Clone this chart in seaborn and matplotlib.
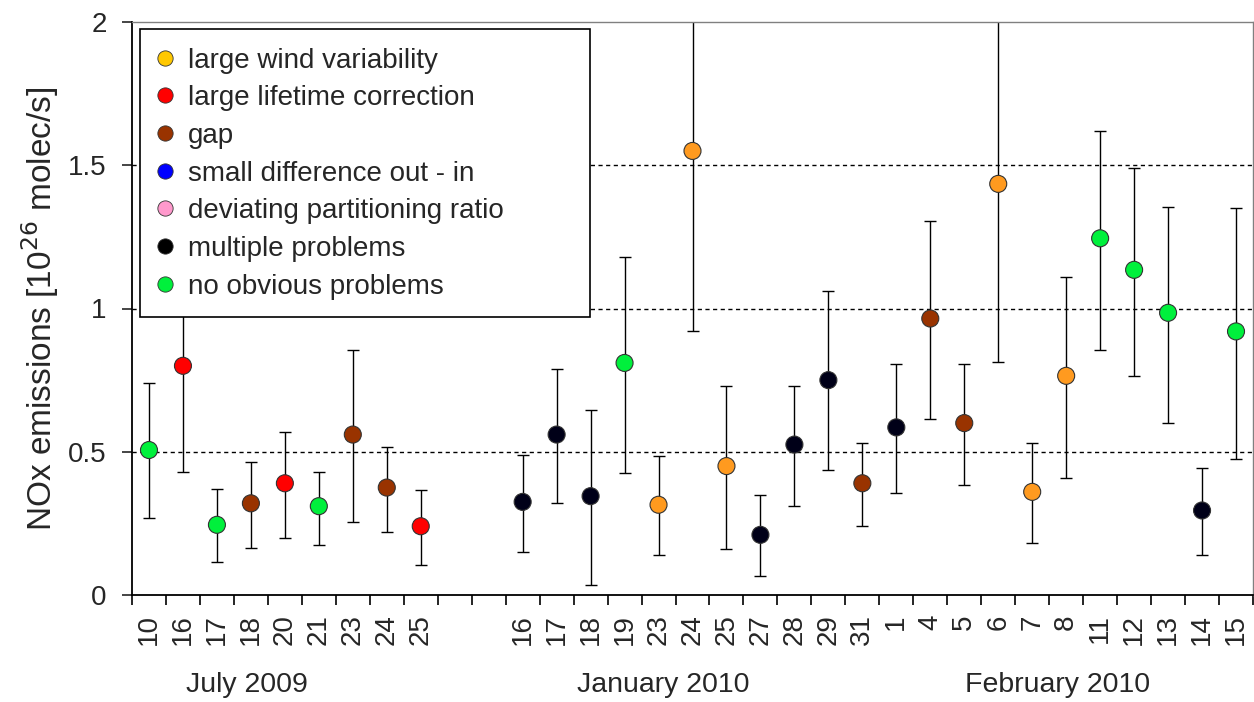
import numpy as np
import pandas as pd
import matplotlib
matplotlib.use("Agg")
import matplotlib.pyplot as plt
from matplotlib.lines import Line2D
from matplotlib.patches import Rectangle
from matplotlib.ticker import FixedLocator, FuncFormatter
import seaborn as sns

# ---------------- data ----------------
july_days = ["10", "16", "17", "18", "20", "21", "23", "24", "25"]
july_vals = [0.506, 0.80, 0.245, 0.32, 0.39, 0.31, 0.56, 0.375, 0.24]
july_hi = [0.74, 1.17, 0.37, 0.465, 0.57, 0.43, 0.855, 0.515, 0.365]
july_lo = [0.27, 0.43, 0.115, 0.165, 0.20, 0.175, 0.255, 0.22, 0.105]
july_cat = ["no obvious problems", "large lifetime correction", "no obvious problems", "gap",
            "large lifetime correction", "no obvious problems", "gap", "gap",
            "large lifetime correction"]

jan_days = ["16", "17", "18", "19", "23", "24", "25", "27", "28", "29", "31"]
jan_vals = [0.325, 0.56, 0.345, 0.81, 0.315, 1.55, 0.45, 0.21, 0.525, 0.75, 0.39]
jan_hi = [0.49, 0.79, 0.645, 1.18, 0.485, 2.18, 0.73, 0.35, 0.73, 1.06, 0.53]
jan_lo = [0.15, 0.32, 0.035, 0.425, 0.14, 0.92, 0.16, 0.065, 0.31, 0.435, 0.24]
jan_cat = ["multiple problems", "multiple problems", "multiple problems", "no obvious problems",
           "large wind variability", "large wind variability", "large wind variability",
           "multiple problems", "multiple problems", "multiple problems", "gap"]

feb_days = ["1", "4", "5", "6", "7", "8", "11", "12", "13", "14", "15"]
feb_vals = [0.585, 0.965, 0.60, 1.435, 0.36, 0.765, 1.245, 1.135, 0.985, 0.295, 0.92]
feb_hi = [0.805, 1.305, 0.805, 2.06, 0.53, 1.11, 1.62, 1.49, 1.355, 0.445, 1.35]
feb_lo = [0.355, 0.615, 0.385, 0.815, 0.18, 0.41, 0.855, 0.765, 0.60, 0.14, 0.475]
feb_cat = ["multiple problems", "gap", "gap", "large wind variability", "large wind variability",
           "large wind variability", "no obvious problems", "no obvious problems",
           "no obvious problems", "multiple problems", "no obvious problems"]

month_labels = ["July 2009", "January 2010", "February 2010"]

categories = ["large wind variability", "large lifetime correction", "gap",
              "small difference out - in", "deviating partitioning ratio",
              "multiple problems", "no obvious problems"]
point_colors = ["#FF9A1F", "#FF0000", "#993300", "#0000FF", "#FF99CC", "#000018", "#00F03C"]
legend_colors = ["#FFC800", "#FF0000", "#993300", "#0000FF", "#FF99CC", "#000000", "#00F03C"]

# ---------------- build table ----------------
gap_slots = 2
rows = []
start = 0
for days, vals, hi, lo, cat in [(july_days, july_vals, july_hi, july_lo, july_cat),
                                (jan_days, jan_vals, jan_hi, jan_lo, jan_cat),
                                (feb_days, feb_vals, feb_hi, feb_lo, feb_cat)]:
    for i, d in enumerate(days):
        rows.append(dict(pos=start + i, day=d, val=vals[i], hi=hi[i], lo=lo[i], cat=cat[i]))
    start += len(days)
    if days is july_days:
        start += gap_slots
df = pd.DataFrame(rows)
n_slots = start

sns.set_style("white")
plt.rcParams['font.family'] = ['Liberation Sans', 'DejaVu Sans']

W, H = 1254, 702
fig = plt.figure(figsize=(W / 100, H / 100), dpi=100)
ax = fig.add_axes([132 / W, 1 - 595 / H, 1121 / W, (595 - 22) / H])

# reference lines
for yv in [0.5, 1.0, 1.5]:
    ax.axhline(yv, color="black", lw=1.0, ls=(0, (3, 2.5)), zorder=1)

# error bars
ax.errorbar(df["pos"], df["val"],
            yerr=[df["val"] - df["lo"], df["hi"] - df["val"]],
            fmt="none", ecolor="black", elinewidth=1.0, capsize=4, capthick=1.0, zorder=2)

# points
sns.scatterplot(data=df, x="pos", y="val", hue="cat", hue_order=categories,
                palette=dict(zip(categories, point_colors)), s=150,
                edgecolor="#333333", linewidth=0.8, legend=False, ax=ax, zorder=3)

ax.set_xlim(-0.5, n_slots - 0.5)
ax.set_ylim(0, 2)

# x ticks: labels at points, marks at boundaries
ax.xaxis.set_major_locator(FixedLocator(df["pos"].tolist()))
ax.set_xticklabels(df["day"].tolist(), rotation=90, fontsize=20)
ax.xaxis.set_minor_locator(FixedLocator(np.arange(-0.5, n_slots, 1.0)))
ax.tick_params(axis="x", which="major", length=0, pad=14)
ax.tick_params(axis="x", which="minor", length=7.2, width=1.2, color="black", direction="out", bottom=True)

ax.set_yticks([0, 0.5, 1, 1.5, 2])
ax.yaxis.set_major_formatter(FuncFormatter(lambda v, p: f"{v:g}"))
ax.tick_params(axis="y", length=7.2, width=1.2, labelsize=20, direction="out", left=True, pad=11)

ax.set_xlabel("")
ax.set_ylabel("NOx emissions [10$^{26}$ molec/s]", fontsize=24, labelpad=5)

for side in ["left", "bottom"]:
    ax.spines[side].set_color("black")
    ax.spines[side].set_linewidth(1.3)
for side in ["top", "right"]:
    ax.spines[side].set_color("#808080")
    ax.spines[side].set_linewidth(1.0)

# month labels
for lab, xf in zip(month_labels, [247, 663, 1058]):
    fig.text(xf / W, 1 - 685 / H, lab, ha="center", va="center", fontsize=20.5)

# legend box (drawn as a frame in figure pixels) + legend entries
box = Rectangle((140 / W, 1 - 317 / H), 450 / W, 288 / H, transform=fig.transFigure,
                facecolor="white", edgecolor="black", linewidth=1.2, zorder=4)
ax.add_patch(box)
box.set_clip_on(False)
handles = [Line2D([0], [0], marker="o", ls="none", markersize=11, markerfacecolor=c,
                  markeredgecolor="#333333", markeredgewidth=0.6) for c in legend_colors]
leg = ax.legend(handles, categories, loc="upper left",
                bbox_to_anchor=(146 / W, 1 - 42 / H), bbox_transform=fig.transFigure,
                borderaxespad=0, fontsize=20, frameon=False,
                handletextpad=0.3, labelspacing=0.42, borderpad=0.2, handlelength=1.0)
leg.set_zorder(5)

fig.savefig("out.png", dpi=100)
